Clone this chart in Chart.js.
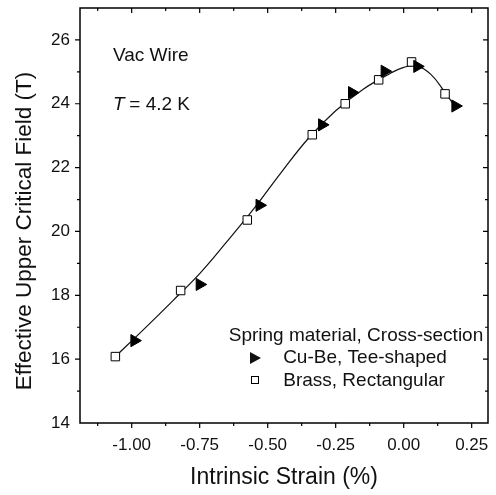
<!DOCTYPE html>
<html>
<head>
<meta charset="utf-8">
<script src="https://cdn.jsdelivr.net/npm/chart.js@4/dist/chart.umd.min.js"></script>
<style>
  html, body { margin: 0; padding: 0; background: #fff; }
  #wrap { width: 496px; height: 495px; }
</style>
</head>
<body>
<div id="wrap"><canvas id="chart" width="496" height="495"></canvas></div>
<script>
// Cu-Be spring, tee-shaped cross-section
const cubeStrain = [-0.99, -0.75, -0.53, -0.30, -0.19, -0.07, 0.05, 0.19];
const cubeField  = [16.58, 18.34, 20.82, 23.34, 24.35, 25.02, 25.17, 23.93];

// Brass spring, rectangular cross-section
const brassStrain = [-1.06, -0.82, -0.575, -0.336, -0.215, -0.092, 0.029, 0.152];
const brassField  = [16.08, 18.15, 20.36, 23.03, 24.00, 24.75, 25.31, 24.31];

// fitted curve
const fitStrain = [-1.06, -0.95, -0.85, -0.75, -0.65, -0.55, -0.45, -0.35, -0.25, -0.15, -0.05, 0.00, 0.05, 0.10, 0.15, 0.19];
const fitField  = [16.08, 16.98, 17.82, 18.68, 19.68, 20.72, 21.85, 22.92, 23.78, 24.45, 24.95, 25.14, 25.18, 24.92, 24.38, 23.90];

const xTicks = [-1.00, -0.75, -0.50, -0.25, 0.00, 0.25];
const yTicks = [14, 16, 18, 20, 22, 24, 26];

const pts = (xs, ys) => xs.map((x, i) => ({ x, y: ys[i] }));
const FONT = 'Liberation Sans, Arial, sans-serif';

// frame, ticks (pointing down / left) and text on the plot
const framePlugin = {
  id: 'frame',
  afterDatasetsDraw(chart) {
    const { ctx, chartArea: a, scales: { x, y } } = chart;
    ctx.save();
    ctx.strokeStyle = '#000';
    ctx.lineWidth = 1.5;
    ctx.strokeRect(a.left, a.top, a.right - a.left, a.bottom - a.top);
    ctx.lineWidth = 1.2;
    ctx.beginPath();
    for (let v = -1.125; v <= 0.3; v += 0.125) {
      const major = Math.abs(v / 0.25 - Math.round(v / 0.25)) < 1e-6;
      const len = major ? 5 : 3;
      const px = x.getPixelForValue(v);
      ctx.moveTo(px, a.bottom); ctx.lineTo(px, a.bottom + len);
      ctx.moveTo(px, a.top); ctx.lineTo(px, a.top + len);
    }
    for (let v = 15; v <= 26; v += 1) {
      const len = v % 2 === 0 ? 5 : 3;
      const py = y.getPixelForValue(v);
      ctx.moveTo(a.left, py); ctx.lineTo(a.left - len, py);
      ctx.moveTo(a.right, py); ctx.lineTo(a.right - len, py);
    }
    ctx.stroke();

    ctx.fillStyle = '#111';
    ctx.textBaseline = 'middle';

    // y axis title
    ctx.save();
    ctx.translate(25, 231);
    ctx.rotate(-Math.PI / 2);
    ctx.textAlign = 'center';
    ctx.font = '22.5px ' + FONT;
    ctx.fillText('Effective Upper Critical Field (T)', 0, 0);
    ctx.restore();

    // annotations
    ctx.font = '19px ' + FONT;
    ctx.fillText('Vac Wire', 113, 56);
    ctx.font = 'italic 19px ' + FONT;
    ctx.fillText('T', 113, 105);
    ctx.font = '19px ' + FONT;
    ctx.fillText(' = 4.2 K', 124, 105);

    // legend
    ctx.textAlign = 'center';
    ctx.fillText('Spring material, Cross-section', 356, 336);
    ctx.fillText('Cu-Be, Tee-shaped', 365, 358);
    ctx.fillText('Brass, Rectangular', 364, 381);
    ctx.beginPath();
    ctx.moveTo(250, 352); ctx.lineTo(261, 358); ctx.lineTo(250, 364); ctx.closePath();
    ctx.fill();
    ctx.lineWidth = 1;
    ctx.strokeRect(251.5, 376.5, 7, 7);
    ctx.restore();
  }
};

new Chart(document.getElementById('chart'), {
  type: 'scatter',
  data: {
    datasets: [
      {
        label: 'fit',
        data: pts(fitStrain, fitField),
        showLine: true,
        borderColor: '#111',
        borderWidth: 1.2,
        pointRadius: 0,
        tension: 0.4,
        order: 3
      },
      {
        label: 'Cu-Be, Tee-shaped',
        data: pts(cubeStrain, cubeField),
        pointStyle: 'triangle',
        rotation: 90,
        pointRadius: 7,
        backgroundColor: '#000',
        borderColor: '#000',
        borderWidth: 1,
        order: 1
      },
      {
        label: 'Brass, Rectangular',
        data: pts(brassStrain, brassField),
        pointStyle: 'rect',
        pointRadius: 6,
        backgroundColor: '#fff',
        borderColor: '#000',
        borderWidth: 1,
        order: 2
      }
    ]
  },
  options: {
    responsive: false,
    animation: false,
    layout: { padding: { top: 6, right: 0, left: 0, bottom: 0 } },
    plugins: {
      legend: { display: false },
      tooltip: { enabled: false }
    },
    scales: {
      x: {
        type: 'linear',
        min: -1.19,
        max: 0.31,
        afterFit: s => { s.height = 72; s.paddingLeft = 0; s.paddingRight = 0; },
        afterBuildTicks: s => { s.ticks = xTicks.map(v => ({ value: v })); },
        grid: { display: false, drawTicks: false },
        border: { display: false },
        ticks: {
          padding: 12,
          color: '#111',
          font: { family: FONT, size: 17 },
          callback: v => v.toFixed(2)
        },
        title: {
          display: true,
          text: 'Intrinsic Strain (%)',
          color: '#111',
          font: { family: FONT, size: 23 },
          padding: { top: 7 }
        }
      },
      y: {
        type: 'linear',
        min: 14,
        max: 27,
        afterFit: s => { s.width = 80; s.paddingTop = 0; s.paddingBottom = 0; },
        afterBuildTicks: s => { s.ticks = yTicks.map(v => ({ value: v })); },
        grid: { display: false, drawTicks: false },
        border: { display: false },
        ticks: {
          padding: 10,
          color: '#111',
          font: { family: FONT, size: 17 },
          callback: v => String(v)
        },
        title: { display: false }
      }
    }
  },
  plugins: [framePlugin]
});
</script>
</body>
</html>
